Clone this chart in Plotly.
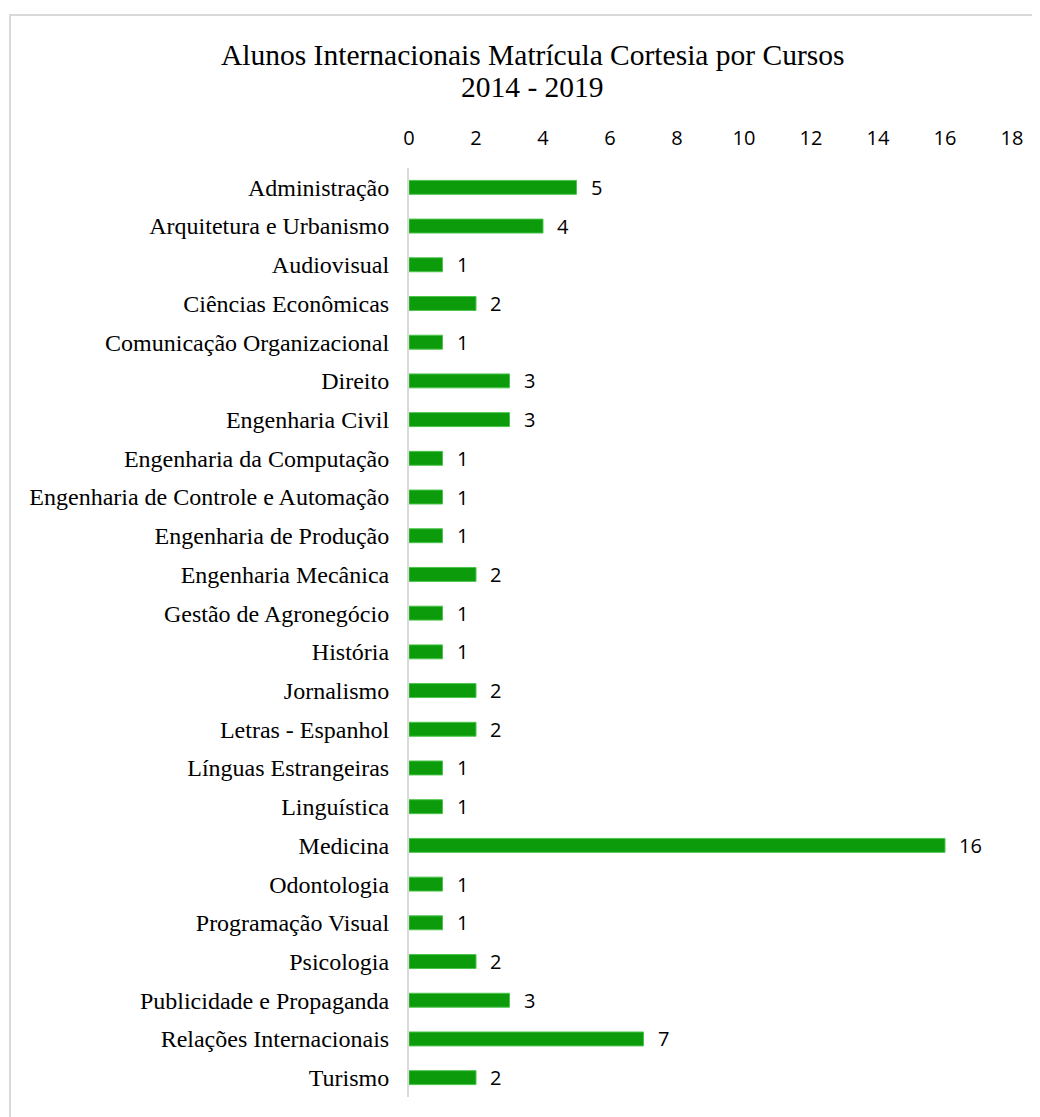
import plotly.graph_objects as go

cursos = [
    "Administração", "Arquitetura e Urbanismo", "Audiovisual", "Ciências Econômicas",
    "Comunicação Organizacional", "Direito", "Engenharia Civil", "Engenharia da Computação",
    "Engenharia de Controle e Automação", "Engenharia de Produção", "Engenharia Mecânica",
    "Gestão de Agronegócio", "História", "Jornalismo", "Letras - Espanhol",
    "Línguas Estrangeiras", "Linguística", "Medicina", "Odontologia", "Programação Visual",
    "Psicologia", "Publicidade e Propaganda", "Relações Internacionais", "Turismo",
]
alunos = [5, 4, 1, 2, 1, 3, 3, 1, 1, 1, 2, 1, 1, 2, 2, 1, 1, 16, 1, 1, 2, 3, 7, 2]
tick_vals = [0, 2, 4, 6, 8, 10, 12, 14, 16, 18]
titulo_1 = "Alunos Internacionais Matrícula Cortesia por Cursos"
titulo_2 = "2014 - 2019"

OFF = 8  # page body margin
W, H = 1040, 1117
ML, MT = 409 - OFF, 168 - OFF
PR, PB = 1012 - OFF, 1097 - OFF
MR, MB = W - PR, H - PB
PW = PR - ML
PH = PB - MT

def px_x(p):
    return (p - OFF - ML) / PW

def px_y(p):
    return 1 - (p - OFF - MT) / PH

fig = go.Figure(go.Bar(
    x=alunos, y=cursos, orientation="h",
    marker=dict(color="#0b9b0b", line=dict(color="#4cc44c", width=1)),
    cliponaxis=False,
))

value_labels = [
    dict(text=str(v), x=v, y=c, xref="x", yref="y",
         xanchor="left", yanchor="middle", xshift=12, showarrow=False,
         font=dict(family="Open Sans", size=20, color="#000000"))
    for c, v in zip(cursos, alunos)
]

fig.update_layout(
    width=W, height=H,
    margin=dict(l=ML, r=MR, t=MT, b=MB),
    paper_bgcolor="white", plot_bgcolor="white",
    bargap=0.64,
    showlegend=False,
    xaxis=dict(
        side="top", range=[0, 18], tickvals=tick_vals,
        showgrid=False, zeroline=False, showline=False, ticks="",
        ticklabelstandoff=18,
        tickfont=dict(family="Open Sans", size=20, color="#000000"),
    ),
    yaxis=dict(
        autorange="reversed", showgrid=False, zeroline=False,
        showline=True, linecolor="#d9d9d9", linewidth=2, ticks="",
        ticklabelstandoff=13,
        tickfont=dict(family="Liberation Serif", size=24, color="#000000"),
    ),
    annotations=value_labels + [
        dict(text=titulo_1, xref="paper", yref="paper",
             x=px_x(532), y=px_y(55), xanchor="center", yanchor="middle",
             showarrow=False,
             font=dict(family="Liberation Serif", size=29.5, color="#000000")),
        dict(text=titulo_2, xref="paper", yref="paper",
             x=px_x(532), y=px_y(87), xanchor="center", yanchor="middle",
             showarrow=False,
             font=dict(family="Liberation Serif", size=29.5, color="#000000")),
    ],
    shapes=[dict(
        type="rect", xref="paper", yref="paper",
        x0=px_x(10), x1=px_x(1070), y0=px_y(1140), y1=px_y(15),
        line=dict(color="#d9d9d9", width=2), fillcolor="rgba(0,0,0,0)", layer="below",
    )],
)

fig.write_html("out.html")
